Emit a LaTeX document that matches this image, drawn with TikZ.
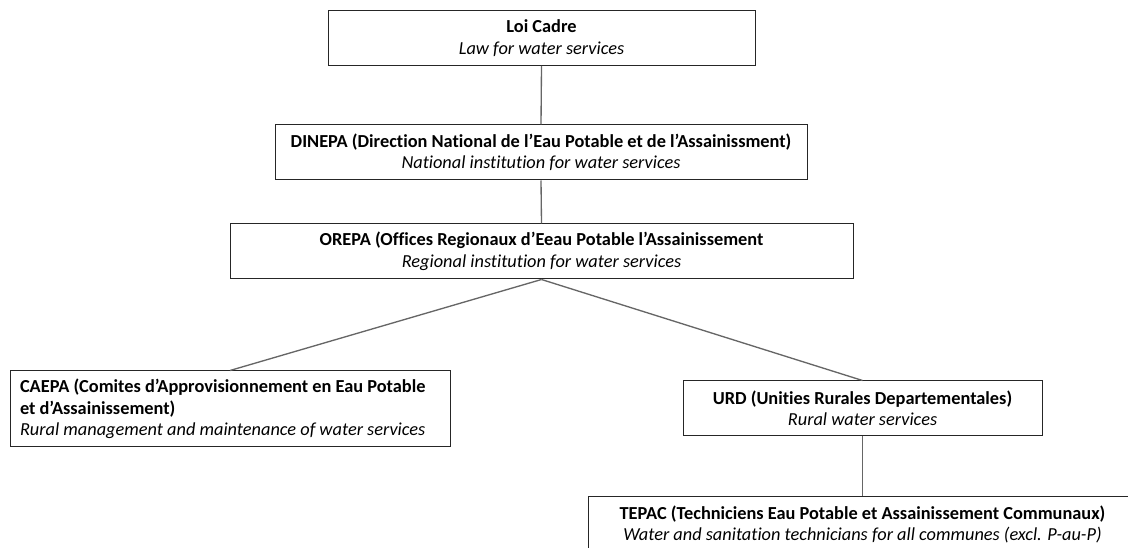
\documentclass[tikz,border=0pt]{standalone}
\usepackage{fontspec}
\setmainfont[Ligatures=NoCommon]{Carlito}
\usetikzlibrary{positioning}

\begin{document}
\begin{tikzpicture}[x=0.75pt, y=-0.75pt,
        box/.style={rectangle, draw=black!85, line width=0.75pt, align=center, inner sep=0pt,
            minimum height=41.25pt, font=\fontsize{13.75}{16.1}\selectfont},
        link/.style={draw=black!60, line width=1pt}]
        \clip (0,0) rectangle (1128,548);

        \node[box, minimum width=320.25pt] (loi) at (541.5,38) {\textbf{Loi Cadre}\\\textit{Law for water services}};
        \node[box, minimum width=399pt] (dinepa) at (541,152.5) {\textbf{DINEPA (Direction National de l’Eau Potable et de l’Assainissment)}\\\textit{National institution for water services}};
        \node[box, minimum width=467.25pt] (orepa) at (541.5,251.5) {\textbf{OREPA (Offices Regionaux d’Eeau Potable l’Assainissement}\\\textit{Regional institution for water services}};
        \node[box, align=flush left, text width=315pt, inner xsep=7.5pt, minimum height=57pt] (caepa) at (230,409) {\textbf{CAEPA (Comites d’Approvisionnement en Eau Potable}\\\textbf{et d’Assainissement)}\\\textit{Rural management and maintenance of water services}};
        \node[box, minimum width=269.25pt] (urd) at (862.5,408.5) {\textbf{URD (Unities Rurales Departementales)}\\\textit{Rural water services}};
        \node[box, minimum width=411.75pt] (tepac) at (862.5,524.5) {\textbf{TEPAC (Techniciens Eau Potable et Assainissement Communaux)}\\\textit{Water and sanitation technicians for all communes (excl. P-au-P)}};

        % tree lines
        \draw[link] (loi.south) -- (dinepa.north);
        \draw[link] (dinepa.south) -- (orepa.north);
        \draw[link] (orepa.south) -- (caepa.north);
        \draw[link] (orepa.south) -- (urd.north);
        \draw[link] (urd.south) -- (tepac.north);
    \end{tikzpicture}
\end{document}
